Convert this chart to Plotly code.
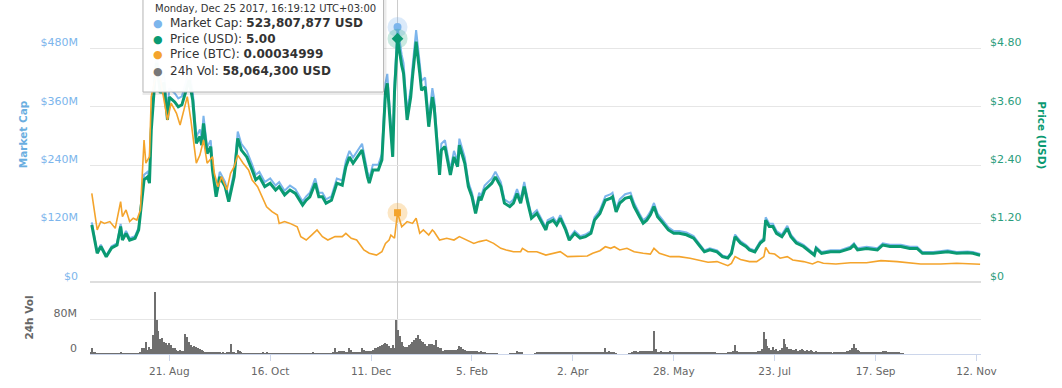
import pandas as pd
import plotly.graph_objects as go

# ------------------------------------------------------------------ data
# Price (USD) and Market Cap
price_dates = [
    "2017-07-09", "2017-07-12", "2017-07-14", "2017-07-17", "2017-07-20", "2017-07-23", "2017-07-25", "2017-07-26", "2017-07-28", "2017-07-30",
    "2017-08-02", "2017-08-04", "2017-08-07", "2017-08-09", "2017-08-10", "2017-08-11", "2017-08-13", "2017-08-14", "2017-08-16", "2017-08-18", "2017-08-20", "2017-08-21", "2017-08-24", "2017-08-26", "2017-08-28", "2017-08-30",
    "2017-09-01", "2017-09-03", "2017-09-05", "2017-09-07", "2017-09-08", "2017-09-09", "2017-09-11", "2017-09-13", "2017-09-14", "2017-09-16", "2017-09-18", "2017-09-21", "2017-09-23", "2017-09-26", "2017-09-28", "2017-09-30",
    "2017-10-03", "2017-10-06", "2017-10-08", "2017-10-10", "2017-10-13", "2017-10-16", "2017-10-19", "2017-10-21", "2017-10-24", "2017-10-27", "2017-10-30",
    "2017-11-03", "2017-11-05", "2017-11-07", "2017-11-10", "2017-11-12", "2017-11-14", "2017-11-16", "2017-11-19", "2017-11-22", "2017-11-25", "2017-11-27", "2017-11-29",
    "2017-12-01", "2017-12-03", "2017-12-06", "2017-12-09", "2017-12-10", "2017-12-12", "2017-12-15", "2017-12-17", "2017-12-19", "2017-12-20", "2017-12-21", "2017-12-23", "2017-12-24", "2017-12-25 16:19", "2017-12-28", "2017-12-29", "2017-12-31",
    "2018-01-02", "2018-01-03", "2018-01-05", "2018-01-07", "2018-01-08", "2018-01-10", "2018-01-12", "2018-01-14", "2018-01-15", "2018-01-18", "2018-01-19", "2018-01-21", "2018-01-24", "2018-01-26", "2018-01-28", "2018-01-29",
    "2018-02-01", "2018-02-03", "2018-02-05", "2018-02-07", "2018-02-09", "2018-02-10", "2018-02-12", "2018-02-14", "2018-02-16", "2018-02-18", "2018-02-21", "2018-02-23", "2018-02-26", "2018-02-28",
    "2018-03-02", "2018-03-04", "2018-03-06", "2018-03-08", "2018-03-10", "2018-03-13", "2018-03-15", "2018-03-18", "2018-03-19", "2018-03-22", "2018-03-24", "2018-03-26", "2018-03-29", "2018-03-31",
    "2018-04-03", "2018-04-06", "2018-04-09", "2018-04-12", "2018-04-14", "2018-04-17", "2018-04-20", "2018-04-23", "2018-04-24", "2018-04-26", "2018-04-28",
    "2018-05-01", "2018-05-04", "2018-05-06", "2018-05-09", "2018-05-11", "2018-05-13", "2018-05-15", "2018-05-17", "2018-05-19", "2018-05-22", "2018-05-25", "2018-05-28", "2018-05-31",
    "2018-06-04", "2018-06-08", "2018-06-11", "2018-06-14", "2018-06-17", "2018-06-21", "2018-06-24", "2018-06-27", "2018-06-29",
    "2018-07-01", "2018-07-04", "2018-07-07", "2018-07-09", "2018-07-12", "2018-07-15", "2018-07-17", "2018-07-18", "2018-07-20", "2018-07-22", "2018-07-24", "2018-07-27", "2018-07-30",
    "2018-08-01", "2018-08-04", "2018-08-08", "2018-08-12", "2018-08-14", "2018-08-15", "2018-08-18", "2018-08-23", "2018-08-28",
    "2018-09-03", "2018-09-05", "2018-09-07", "2018-09-12", "2018-09-18", "2018-09-21", "2018-09-25",
    "2018-10-01", "2018-10-06", "2018-10-10", "2018-10-13", "2018-10-19", "2018-10-27",
    "2018-11-01", "2018-11-07", "2018-11-10", "2018-11-14",
]
price_usd = [
    1.17, 0.59, 0.73, 0.52, 0.70, 0.76, 1.14, 0.86, 1.00, 0.86,
    0.90, 1.07, 2.10, 2.16, 2.03, 3.12, 4.15, 4.50, 3.88, 4.10, 3.33, 3.80, 3.70, 3.60, 3.64, 3.88,
    4.15, 3.74, 2.85, 2.99, 2.81, 3.26, 2.64, 2.78, 2.30, 1.75, 2.16, 1.96, 1.65, 2.16, 2.95, 2.71,
    2.57, 2.30, 2.10, 2.16, 1.96, 2.03, 1.89, 1.96, 1.79, 1.89, 1.82,
    1.58, 1.68, 1.75, 2.03, 1.75, 1.75, 1.62, 1.68, 2.03, 1.99, 2.37, 2.57,
    2.44, 2.54, 2.71, 2.16, 2.03, 2.30, 2.30, 2.51, 3.90, 4.08, 3.50, 2.57, 3.90, 5.00, 4.45, 4.29, 3.33,
    3.80, 4.22, 4.94, 4.29, 3.94, 4.01, 3.19, 3.80, 3.60, 2.20, 2.71, 2.78, 2.20, 2.57, 2.37, 2.81,
    2.44, 1.96, 1.75, 1.41, 1.75, 1.68, 1.89, 1.96, 2.03, 2.16, 1.96, 1.62, 1.55, 1.62,
    1.82, 1.62, 1.96, 1.62, 1.31, 1.41, 1.27, 1.07, 1.21, 1.27, 1.17, 1.31, 1.07, 0.86,
    1.00, 0.90, 0.93, 1.00, 1.27, 1.41, 1.68, 1.72, 1.75, 1.44, 1.62,
    1.72, 1.75, 1.55, 1.34, 1.21, 1.27, 1.38, 1.55, 1.34, 1.21, 1.07, 1.00, 1.00,
    0.97, 0.90, 0.76, 0.62, 0.66, 0.62, 0.52, 0.49, 0.59,
    0.93, 0.80, 0.73, 0.66, 0.62, 0.80, 0.86, 1.27, 1.14, 1.14, 1.00, 0.93, 1.10,
    0.93, 0.80, 0.73, 0.62, 0.55, 0.69, 0.59, 0.62, 0.62,
    0.69, 0.76, 0.66, 0.69, 0.66, 0.76, 0.73,
    0.73, 0.69, 0.69, 0.59, 0.59, 0.62,
    0.59, 0.60, 0.59, 0.55,
]
market_cap_musd = [
    122.6, 61.8, 76.5, 54.5, 73.4, 79.6, 119.5, 90.1, 104.8, 90.1,
    94.3, 112.1, 220.1, 226.4, 212.7, 327.0, 434.9, 471.6, 406.6, 429.7, 349.0, 398.2, 387.8, 377.3, 381.5, 406.6,
    434.9, 392.0, 298.7, 313.4, 294.5, 341.6, 276.7, 291.3, 241.0, 183.4, 226.4, 205.4, 172.9, 226.4, 309.2, 284.0,
    269.3, 241.0, 220.1, 226.4, 205.4, 212.7, 198.1, 205.4, 187.6, 198.1, 190.7,
    165.6, 176.1, 183.4, 212.7, 183.4, 183.4, 169.8, 176.1, 212.7, 208.6, 248.4, 269.3,
    255.7, 266.2, 284.0, 226.4, 212.7, 241.0, 241.0, 263.0, 408.7, 427.6, 366.8, 269.3, 408.7, 523.807877, 466.4, 449.6, 349.0,
    398.2, 442.3, 517.7, 449.6, 412.9, 420.2, 334.3, 398.2, 377.3, 230.6, 284.0, 291.3, 230.6, 269.3, 248.4, 294.5,
    255.7, 205.4, 183.4, 147.8, 183.4, 176.1, 198.1, 205.4, 212.7, 226.4, 205.4, 169.8, 162.4, 169.8,
    190.7, 169.8, 205.4, 169.8, 137.3, 147.8, 133.1, 112.1, 126.8, 133.1, 122.6, 137.3, 112.1, 90.1,
    104.8, 94.3, 97.5, 104.8, 133.1, 147.8, 176.1, 180.3, 183.4, 150.9, 169.8,
    180.3, 183.4, 162.4, 140.4, 126.8, 133.1, 144.6, 162.4, 140.4, 126.8, 112.1, 104.8, 104.8,
    101.7, 94.3, 79.6, 65.0, 69.2, 65.0, 54.5, 51.4, 61.8,
    97.5, 83.8, 76.5, 69.2, 65.0, 83.8, 90.1, 133.1, 119.5, 119.5, 104.8, 97.5, 115.3,
    97.5, 83.8, 76.5, 65.0, 57.6, 72.3, 61.8, 65.0, 65.0,
    72.3, 79.6, 69.2, 72.3, 69.2, 79.6, 76.5,
    76.5, 72.3, 72.3, 61.8, 61.8, 65.0,
    61.8, 62.9, 61.8, 57.6,
]

# Price (BTC)
btc_dates = [
    "2017-07-09", "2017-07-12", "2017-07-14", "2017-07-16", "2017-07-19", "2017-07-22", "2017-07-25", "2017-07-26", "2017-07-28", "2017-07-30",
    "2017-08-01", "2017-08-03", "2017-08-05", "2017-08-07", "2017-08-08", "2017-08-10", "2017-08-11", "2017-08-13", "2017-08-15", "2017-08-17", "2017-08-19", "2017-08-20", "2017-08-22", "2017-08-25", "2017-08-27", "2017-08-29", "2017-08-31",
    "2017-09-02", "2017-09-05", "2017-09-07", "2017-09-09", "2017-09-11", "2017-09-14", "2017-09-15", "2017-09-17", "2017-09-19", "2017-09-22", "2017-09-24", "2017-09-26", "2017-09-28",
    "2017-10-01", "2017-10-04", "2017-10-06", "2017-10-09", "2017-10-11", "2017-10-14", "2017-10-17", "2017-10-20", "2017-10-21", "2017-10-24", "2017-10-27", "2017-10-31",
    "2017-11-02", "2017-11-05", "2017-11-08", "2017-11-11", "2017-11-14", "2017-11-17", "2017-11-21", "2017-11-25", "2017-11-27", "2017-11-30",
    "2017-12-03", "2017-12-07", "2017-12-10", "2017-12-14", "2017-12-17", "2017-12-19", "2017-12-21", "2017-12-22", "2017-12-24", "2017-12-25 16:19", "2017-12-28", "2017-12-31",
    "2018-01-03", "2018-01-05", "2018-01-07", "2018-01-09", "2018-01-12", "2018-01-14", "2018-01-15", "2018-01-18", "2018-01-22", "2018-01-26", "2018-01-29",
    "2018-02-02", "2018-02-06", "2018-02-09", "2018-02-13", "2018-02-17", "2018-02-21", "2018-02-24", "2018-02-28",
    "2018-03-04", "2018-03-05", "2018-03-08", "2018-03-13", "2018-03-18", "2018-03-22", "2018-03-26", "2018-03-30",
    "2018-04-04", "2018-04-10", "2018-04-13", "2018-04-17", "2018-04-20", "2018-04-23", "2018-04-25", "2018-04-28",
    "2018-05-02", "2018-05-06", "2018-05-11", "2018-05-15", "2018-05-17", "2018-05-20", "2018-05-26", "2018-05-31",
    "2018-06-06", "2018-06-11", "2018-06-16", "2018-06-21", "2018-06-27", "2018-06-29",
    "2018-07-01", "2018-07-04", "2018-07-09", "2018-07-13", "2018-07-17", "2018-07-18", "2018-07-20", "2018-07-23", "2018-07-26", "2018-07-30",
    "2018-08-02", "2018-08-08", "2018-08-13", "2018-08-16", "2018-08-19", "2018-08-26",
    "2018-09-03", "2018-09-12", "2018-09-20", "2018-09-29",
    "2018-10-12", "2018-10-23",
    "2018-11-01", "2018-11-14",
]
price_btc = [
    0.000448, 0.000263, 0.000305, 0.000296, 0.000305, 0.000271, 0.000406, 0.000330, 0.000364, 0.000305,
    0.000322, 0.000313, 0.000364, 0.000717, 0.000600, 0.000633, 0.000936, 0.001020, 0.001080, 0.000980, 0.000869, 0.000818, 0.000903, 0.000852, 0.000793, 0.000869, 0.000936,
    0.000818, 0.000600, 0.000641, 0.000717, 0.000600, 0.000633, 0.000549, 0.000481, 0.000532, 0.000465, 0.000549, 0.000582, 0.000641,
    0.000600, 0.000566, 0.000515, 0.000481, 0.000439, 0.000380, 0.000355, 0.000338, 0.000296, 0.000305, 0.000296, 0.000279,
    0.000229, 0.000212, 0.000237, 0.000263, 0.000229, 0.000212, 0.000229, 0.000229, 0.000246, 0.000221,
    0.000212, 0.000162, 0.000145, 0.000136, 0.000153, 0.000195, 0.000212, 0.000237, 0.000221, 0.00034999, 0.000279, 0.000305,
    0.000296, 0.000322, 0.000246, 0.000263, 0.000237, 0.000263, 0.000254, 0.000212, 0.000221, 0.000212, 0.000229,
    0.000212, 0.000195, 0.000204, 0.000212, 0.000195, 0.000170, 0.000162, 0.000153,
    0.000153, 0.000170, 0.000153, 0.000153, 0.000136, 0.000145, 0.000153, 0.000128,
    0.000128, 0.000131, 0.000145, 0.000158, 0.000178, 0.000170, 0.000178, 0.000162,
    0.000170, 0.000153, 0.000145, 0.000141, 0.000170, 0.000145, 0.000128, 0.000128,
    0.000120, 0.000111, 0.000100, 0.000103, 0.0000825, 0.0000943,
    0.000128, 0.000114, 0.000103, 0.000103, 0.000128, 0.000175, 0.000145, 0.000141, 0.000120, 0.000128,
    0.000111, 0.000103, 0.0000909, 0.000103, 0.0000943, 0.0000909,
    0.0000975, 0.0000975, 0.000108, 0.000103,
    0.0000909, 0.0000909,
    0.0000943, 0.0000893,
]

# 24h Vol, millions of USD, one value per day, by month
vol_2017_07 = [3, 14, 5, 3, 2, 2, 1, 1, 1, 1, 1, 1, 1, 1, 1, 1, 2, 3, 1, 1, 1, 1, 1, 1]  # from Jul 8
vol_2017_08 = [1, 1, 2, 2, 4, 13, 13, 28, 9, 17, 12, 43, 142, 78, 53, 34, 36, 28, 26, 21, 26, 21, 13, 14, 9, 8, 9, 6, 7, 46, 38]
vol_2017_09 = [28, 21, 17, 18, 17, 13, 11, 9, 8, 5, 5, 4, 5, 4, 3, 4, 3, 3, 2, 3, 2, 3, 4, 23, 3, 3, 2, 9, 6, 3]
vol_2017_10 = [2, 2, 1, 1, 1, 1, 1, 1, 1, 1, 2, 3, 2, 3, 1, 1, 1, 1, 1, 1, 1, 1, 1, 1, 1, 1, 1, 1, 1, 1, 1]
vol_2017_11 = [1, 1, 1, 1, 1, 1, 1, 1, 3, 2, 1, 1, 1, 1, 2, 1, 1, 2, 2, 3, 13, 4, 6, 8, 6, 8, 5, 4, 13, 9]
vol_2017_12 = [5, 5, 4, 5, 5, 14, 9, 6, 8, 6, 8, 10, 13, 13, 15, 18, 20, 23, 26, 23, 18, 13, 20, 13, 78, 55, 42, 27, 19, 15, 17]
vol_2018_01 = [21, 24, 27, 33, 36, 43, 34, 30, 27, 23, 19, 24, 23, 22, 21, 32, 15, 14, 14, 8, 10, 9, 10, 9, 10, 9, 10, 12, 19, 15, 11]
vol_2018_02 = [10, 8, 6, 6, 6, 6, 6, 6, 5, 6, 5, 4, 2, 1, 2, 1, 1, 2, 1, 0, 0, 0, 0, 0, 0, 1, 1, 1]
vol_2018_03 = [1, 8, 5, 5, 4, 0, 0, 0, 0, 0, 0, 1, 4, 5, 4, 5, 4, 4, 5, 4, 5, 4, 4, 5, 4, 5, 4, 4, 5, 4, 5]
vol_2018_04 = [5, 4, 5, 4, 4, 5, 4, 5, 4, 4, 5, 4, 5, 4, 4, 5, 4, 5, 5, 14, 5, 6, 5, 5, 4, 1, 0, 0, 0, 0]
vol_2018_05 = [0, 0, 1, 1, 5, 6, 6, 5, 6, 6, 7, 6, 6, 7, 6, 8, 53, 11, 5, 5, 6, 5, 5, 5, 5, 6, 5, 5, 5, 5, 5]
vol_2018_06 = [5, 5, 5, 5, 5, 4, 4, 4, 4, 3, 4, 4, 4, 3, 4, 4, 4, 3, 4, 4, 2, 1, 1, 1, 2, 2, 3, 3, 4, 8]
vol_2018_07 = [21, 8, 5, 4, 3, 3, 3, 3, 3, 4, 3, 4, 5, 6, 8, 11, 51, 34, 19, 13, 10, 15, 9, 12, 8, 10, 14, 34, 23, 15, 11]
vol_2018_08 = [12, 9, 10, 11, 8, 10, 11, 9, 8, 10, 7, 9, 6, 5, 6, 5, 4, 3, 3, 3, 3, 3, 3, 2, 3, 3, 3, 3, 4, 4, 5]
vol_2018_09 = [6, 7, 10, 13, 24, 13, 9, 6, 5, 4, 4, 3, 3, 3, 3, 4, 4, 3, 4, 5, 6, 7, 6, 5, 4, 4, 3, 3, 3, 3]
vol_2018_10 = [2, 2]

vol_months = [
    ("2017-07-08", vol_2017_07), ("2017-08-01", vol_2017_08), ("2017-09-01", vol_2017_09),
    ("2017-10-01", vol_2017_10), ("2017-11-01", vol_2017_11), ("2017-12-01", vol_2017_12),
    ("2018-01-01", vol_2018_01), ("2018-02-01", vol_2018_02), ("2018-03-01", vol_2018_03),
    ("2018-04-01", vol_2018_04), ("2018-05-01", vol_2018_05), ("2018-06-01", vol_2018_06),
    ("2018-07-01", vol_2018_07), ("2018-08-01", vol_2018_08), ("2018-09-01", vol_2018_09),
    ("2018-10-01", vol_2018_10),
]

# hovered point (tooltip)
hover_date = "2017-12-25 16:19:12"
hover_label = "Monday, Dec 25 2017, 16:19:12 UTC+03:00"
hover_mcap = 523807877
hover_price = 5.00
hover_btc = 0.00034999
hover_vol = 58064300

# axes
x_range = ["2017-07-08", "2018-11-14 12:00"]
x_tick_dates = ["2017-08-21", "2017-10-16", "2017-12-11", "2018-02-05", "2018-04-02",
                "2018-05-28", "2018-07-23", "2018-09-17", "2018-11-12"]
x_tick_labels = ["21. Aug", "16. Oct", "11. Dec", "5. Feb", "2. Apr",
                 "28. May", "23. Jul", "17. Sep", "12. Nov"]
mcap_ticks = [0, 120e6, 240e6, 360e6, 480e6]
mcap_tick_labels = ["$0", "$120M", "$240M", "$360M", "$480M"]
price_ticks = [0, 1.2, 2.4, 3.6, 4.8]
price_tick_labels = ["$0", "$1.20", "$2.40", "$3.60", "$4.80"]
vol_ticks = [0, 80e6]
vol_tick_labels = ["0", "80M"]

# ------------------------------------------------------------------ style
FONT = "DejaVu Sans"
BLUE = "#7cb5ec"
GREEN = "#0a9a72"
ORANGE = "#f4a42c"
GRAY = "#6f6f6f"
GRID = "#e6e6e6"
W, H = 1062, 388
ML, MR, MT, MB = 90, 81, 0, 34
PW, PH = W - ML - MR, H - MT - MB
VOL_TOP = 0.2034  # fraction of plot height for the volume pane

def px(x):
    return (x - ML) / PW

def py(y):
    return (H - MB - y) / PH

vol_dates, vol_vals = [], []
for start, vals in vol_months:
    vol_dates += list(pd.date_range(start, periods=len(vals), freq="D"))
    vol_vals += [v * 1e6 for v in vals]

fig = go.Figure()
fig.add_trace(go.Scatter(x=price_dates, y=[m * 1e6 for m in market_cap_musd], yaxis="y",
                         mode="lines", line=dict(color=BLUE, width=2)))
fig.add_trace(go.Scatter(x=price_dates, y=price_usd, yaxis="y2",
                         mode="lines", line=dict(color=GREEN, width=3)))
fig.add_trace(go.Scatter(x=btc_dates, y=price_btc, yaxis="y3",
                         mode="lines", line=dict(color=ORANGE, width=1.6)))
fig.add_trace(go.Bar(x=vol_dates, y=vol_vals, yaxis="y4", xaxis="x",
                     marker=dict(color=GRAY, line=dict(width=0)), width=0.6 * 86400000))

# hover halos and markers
fig.add_trace(go.Scatter(x=[hover_date], y=[hover_mcap], yaxis="y", mode="markers",
                         marker=dict(size=20, color="rgba(124,181,236,0.28)")))
fig.add_trace(go.Scatter(x=[hover_date], y=[hover_price], yaxis="y2", mode="markers",
                         marker=dict(size=20, color="rgba(10,154,114,0.22)")))
fig.add_trace(go.Scatter(x=[hover_date], y=[hover_btc], yaxis="y3", mode="markers",
                         marker=dict(size=20, color="rgba(244,164,44,0.28)")))
fig.add_trace(go.Scatter(x=[hover_date], y=[hover_mcap], yaxis="y", mode="markers",
                         marker=dict(size=8, color=BLUE, symbol="circle")))
fig.add_trace(go.Scatter(x=[hover_date], y=[hover_price], yaxis="y2", mode="markers",
                         marker=dict(size=9, color=GREEN, symbol="diamond")))
fig.add_trace(go.Scatter(x=[hover_date], y=[hover_btc], yaxis="y3", mode="markers",
                         marker=dict(size=7, color=ORANGE, symbol="square")))

label_font = dict(family=FONT, size=11)
fig.update_layout(
    template="none",
    width=W, height=H, margin=dict(l=ML, r=MR, t=MT, b=MB, autoexpand=False),
    paper_bgcolor="white", plot_bgcolor="white",
    showlegend=False, hovermode=False, bargap=0,
    font=dict(family=FONT, color="#666666"),
    xaxis=dict(type="date", domain=[0, 1], anchor="y4", range=x_range, automargin=False,
               tickvals=x_tick_dates, ticktext=x_tick_labels,
               tickfont=dict(family=FONT, size=10.5, color="#666666"),
               ticks="outside", ticklen=6, tickcolor="#ccd6eb",
               showline=True, linecolor="#ccd6eb", linewidth=1,
               showgrid=False, zeroline=False, ticklabelstandoff=1),
    yaxis=dict(domain=[VOL_TOP, 1], anchor="x", range=[0, 579.4e6], automargin=False,
               tickvals=mcap_ticks, ticktext=mcap_tick_labels,
               tickfont=dict(label_font, color="#7cb5ec"),
               showgrid=True, gridcolor=GRID, gridwidth=1, zeroline=False, showline=False,
               ticks="", ticklabelshift=-6, ticklabelstandoff=11),
    yaxis2=dict(overlaying="y", side="right", anchor="x", range=[0, 5.794], automargin=False,
                tickvals=price_ticks, ticktext=price_tick_labels,
                tickfont=dict(label_font, color="#2a9d7c"),
                showgrid=False, zeroline=False, showline=False, ticks="",
                ticklabelshift=-6, ticklabelstandoff=8),
    yaxis3=dict(overlaying="y", anchor="x", range=[0, 0.0014242], visible=False, automargin=False),
    yaxis4=dict(domain=[0, VOL_TOP], anchor="x", range=[0, 164.6e6], automargin=False,
                tickvals=vol_ticks, ticktext=vol_tick_labels,
                tickfont=dict(label_font, color="#666666"),
                showgrid=True, gridcolor=GRID, zeroline=False, showline=False, ticks="",
                ticklabelshift=-6, ticklabelstandoff=12),
)

shapes = [
    # separator between panes
    dict(type="line", xref="paper", yref="paper", x0=0, x1=1, y0=VOL_TOP, y1=VOL_TOP,
         line=dict(color="#dedede", width=2), layer="below"),
    # crosshair
    dict(type="line", xref="x", yref="paper", x0=hover_date, x1=hover_date, y0=0, y1=1,
         line=dict(color="#cccccc", width=1), layer="below"),
    # tooltip shadow + box
    dict(type="rect", xref="paper", yref="paper", x0=px(144), x1=px(385), y0=py(93.5), y1=py(-6),
         line=dict(color="rgba(0,0,0,0.08)", width=3), fillcolor="rgba(0,0,0,0)", layer="above"),
    dict(type="rect", xref="paper", yref="paper", x0=px(143), x1=px(383.5), y0=py(92), y1=py(-6),
         line=dict(color="#b8b8b8", width=1), fillcolor="rgba(255,255,255,0.97)", layer="above"),
]
fig.update_layout(shapes=shapes)

ann = []
def txt(x, y, s, size=11, color="#333333", xanchor="left", angle=0, bold=False):
    ann.append(dict(x=px(x), y=py(y), xref="paper", yref="paper", text=("<b>%s</b>" % s) if bold else s,
                    showarrow=False, xanchor=xanchor, yanchor="middle", textangle=angle,
                    font=dict(family=FONT, size=size, color=color)))

# axis titles
txt(22.7, 134.5, "Market Cap", size=10.5, color="#6aaee0", xanchor="center", angle=-90, bold=True)
txt(1041.7, 135, "Price (USD)", size=10.5, color="#0a9a72", xanchor="center", angle=90, bold=True)
txt(28, 317.5, "24h Vol", size=10.5, color="#666666", xanchor="center", angle=-90, bold=True)

# tooltip text
txt(152.5, 8.3, hover_label, size=10, color="#333333")
rows = [
    (BLUE, "Market Cap: ", "{:,} USD".format(hover_mcap)),
    (GREEN, "Price (USD): ", "{:.2f}".format(hover_price)),
    (ORANGE, "Price (BTC): ", "{:.8f}".format(hover_btc)),
    ("#777777", "24h Vol: ", "{:,} USD".format(hover_vol)),
]
row_y = [23.3, 39.3, 54.3, 71.0]
for (c, lab, val), yy in zip(rows, row_y):
    txt(158.3, yy, "●", size=11, color=c, xanchor="center")
    txt(167.5, yy, lab + "<b>" + val + "</b>", size=12, color="#333333")
fig.update_layout(annotations=ann)

fig.write_html("out.html", config={"displayModeBar": False},
               post_script="document.body.style.margin='0px';")
